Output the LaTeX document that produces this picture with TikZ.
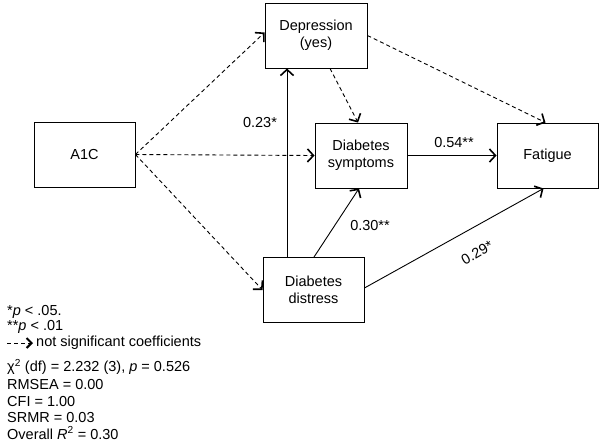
\documentclass[tikz,border=0pt]{standalone}
\usepackage{fontspec}
\setmainfont{Liberation Sans}
\usetikzlibrary{arrows.meta}
\begin{document}
\begin{tikzpicture}[x=1pt,y=-1pt, font=\fontsize{14.5}{17}\selectfont,
 box/.style={draw, line width=0.9pt, minimum height=65pt, align=center, inner sep=0pt},
 sig/.style={-{Straight Barb[length=6pt,width=13pt,line width=1.6pt]}, line width=0.9pt},
 ns/.style={sig, dash pattern=on 4pt off 3pt},
 lab/.style={inner sep=0pt},
 leg/.style={anchor=west, inner sep=0pt}]
\useasboundingbox (0,0) rectangle (601,445);
\node[box, minimum width=101pt] (a1c) at (84.5,154.5) {A1C};
\node[box, minimum width=102pt] (dep) at (316,35.5) {Depression\\(yes)};
\node[box, minimum width=92pt] (sym) at (361,155.5) {Diabetes\\symptoms};
\node[box, minimum width=101pt] (fat) at (547.5,155.5) {Fatigue};
\node[box, minimum width=101pt] (dis) at (313.5,290) {Diabetes\\distress};

% non-significant
\draw[ns] (a1c.east) -- ([yshift=3pt]dep.west);
\draw[ns] (a1c.east) -- (sym.west);
\draw[ns] (a1c.east) -- (dis.west);
\draw[ns] ([xshift=14pt]dep.south) -- ([xshift=-3pt]sym.north);
\draw[ns] (dep.east) -- ([xshift=-2pt]fat.north);

% significant
\draw[sig] ([xshift=-26.5pt]dis.north) -- ([xshift=-26.5pt]dis.north |- dep.south);
\draw[sig] ([xshift=0.5pt]dis.north) -- ([xshift=-2pt]sym.south);
\draw[sig] (sym.east) -- (fat.west);
\draw[sig] ([yshift=2pt]dis.east) -- ([xshift=-4pt]fat.south);

\node[lab] (l23) at (260,123) {0.23*};
\node[lab] (l30) at (370,226) {0.30**};
\node[lab] (l54) at (454,143) {0.54**};
\node[lab, rotate=30] (l29) at (477,253) {0.29*};

% legend
\node[leg] (n1) at (7,312) {*\textit{p} < .05.};
\node[leg] (n2) at (7,327) {**\textit{p} < .01};
\coordinate (ls) at (7,343);
\coordinate (le) at (33,343);
\draw[line width=0.9pt, dash pattern=on 4pt off 3pt, -{Straight Barb[length=5pt,width=10pt,line width=2pt]}] (ls) -- (le);
\node[leg] (n3) at (36,343) {not significant coefficients};
\node[leg] (n4) at (7,367) {χ\textsuperscript{2} (df) = 2.232 (3), \textit{p} = 0.526};
\node[leg] (n5) at (7,384) {RMSEA = 0.00};
\node[leg] (n6) at (7,401) {CFI = 1.00};
\node[leg] (n7) at (7,417) {SRMR = 0.03};
\node[leg] (n8) at (7,433) {Overall \textit{R}\textsuperscript{2} = 0.30};
\end{tikzpicture}
\end{document}
